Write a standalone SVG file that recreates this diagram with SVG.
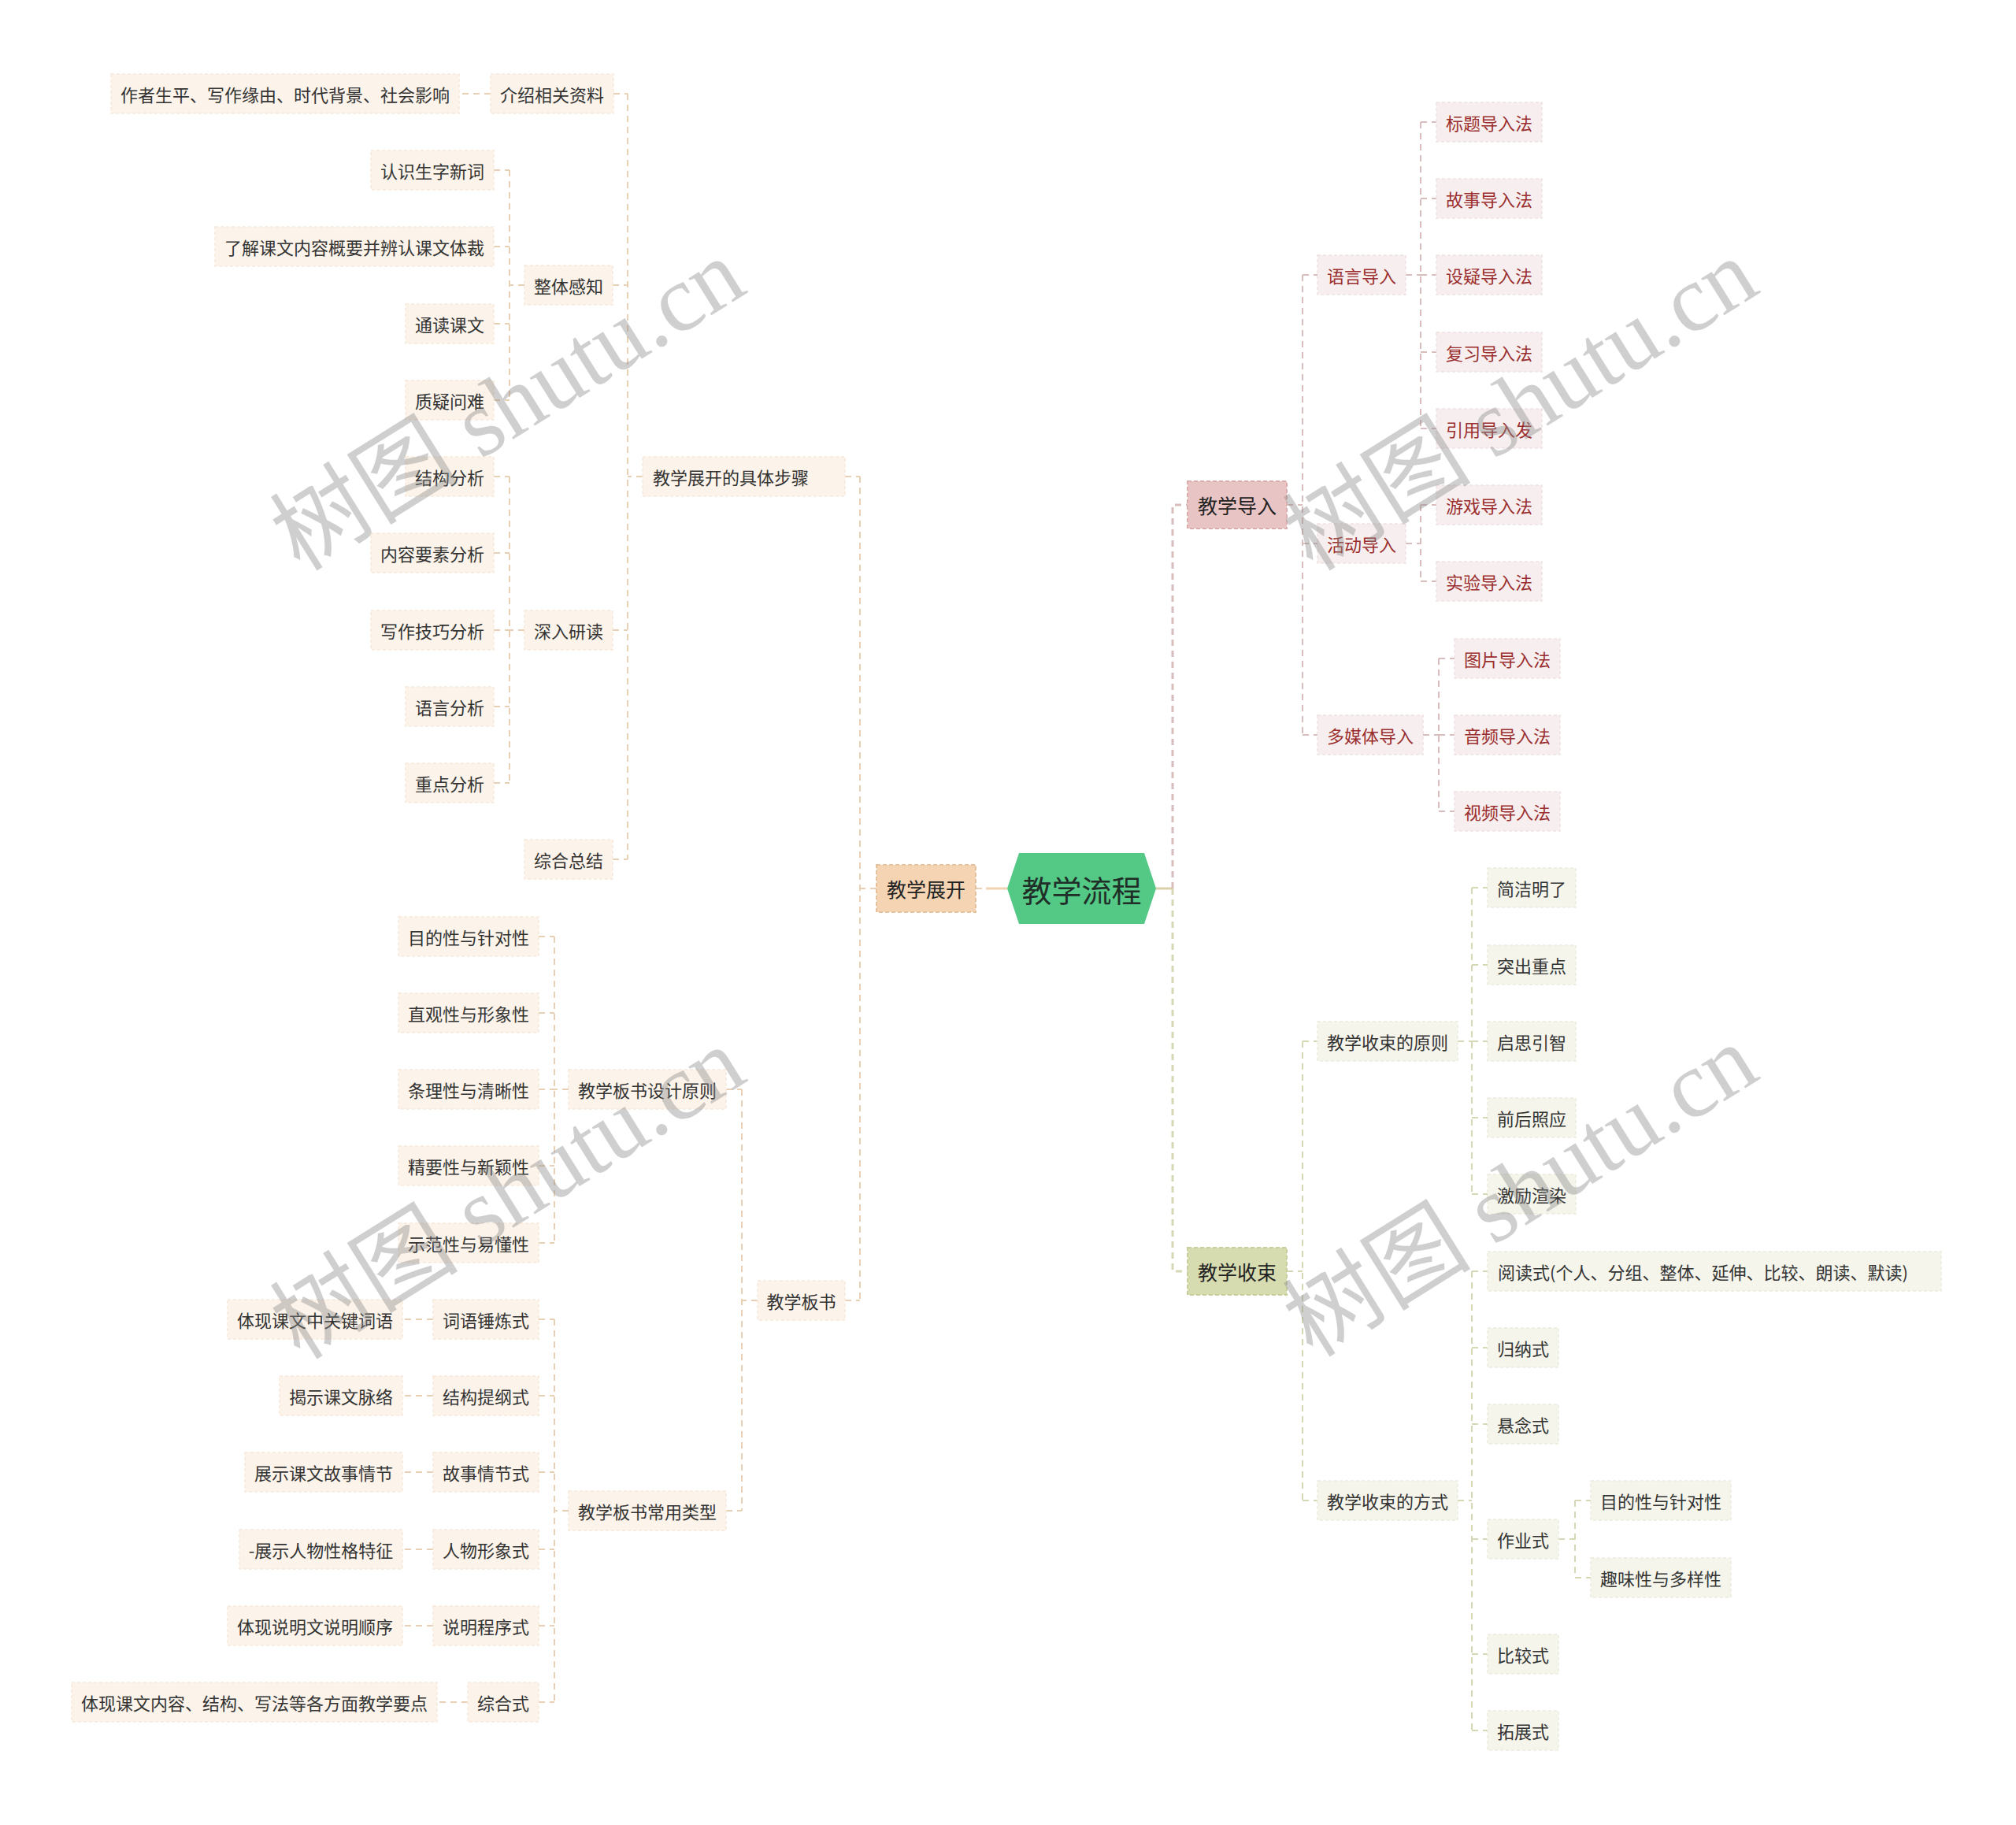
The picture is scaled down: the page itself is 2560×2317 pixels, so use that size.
<svg xmlns="http://www.w3.org/2000/svg" width="2560" height="2317" viewBox="0 0 2560 2317">
<style>
text{font-family:"Noto Sans CJK SC","Noto Sans",sans-serif;dominant-baseline:central;text-anchor:middle;font-size:22px}
.st{text-anchor:start}
.l1 text{font-size:25px;fill:#222}
.A .b{fill:#fcf3ea;stroke:#f7e9da;stroke-width:1.5;stroke-dasharray:4 3}
.A text{fill:#333}
.B .b{fill:#f7efef;stroke:#f0e2e2;stroke-width:1.5;stroke-dasharray:4 3}
.B text{fill:#9a2e2e}
.C .b{fill:#f5f5ec;stroke:#ececde;stroke-width:1.5;stroke-dasharray:4 3}
.C text{fill:#333}
.l1.A .b{fill:#f4d4b2;stroke:#e6c29c;stroke-width:2;stroke-dasharray:5 3}
.l1.B .b{fill:#e9c4c4;stroke:#dcadad;stroke-width:2;stroke-dasharray:5 3}
.l1.C .b{fill:#d7dcb0;stroke:#c9ce9c;stroke-width:2;stroke-dasharray:5 3}
.l1 text{fill:#222}
.cA{fill:none;stroke:#e8d0b4;stroke-width:2;stroke-dasharray:8 6}
.cB{fill:none;stroke:#d9bdbd;stroke-width:2;stroke-dasharray:8 6}
.cC{fill:none;stroke:#d6d7b5;stroke-width:2;stroke-dasharray:8 6}
.wm{font-family:"Liberation Serif","Noto Sans CJK SC",serif;font-size:120px;fill:#8a8a8a;opacity:0.4;text-anchor:middle}
</style>
<g id="connectors">
<path class="cA" d="M1239,1128 H1252"/>
<path d="M1252,1128 H1279" stroke="#f0d2b2" stroke-width="3" fill="none"/>
<path d="M1468,1128 H1489" stroke="#d9cfa8" stroke-width="3" fill="none"/>
<path class="cA" d="M1113,1128 H1092 M1092,605 V1651 M1073,605 H1092 M1073,1651 H1092"/>
<path class="cA" d="M816,605 H797 M797,119 V1091 M779,119 H797 M778,362 H797 M778,800 H797 M778,1091 H797"/>
<path class="cA" d="M666,362 H647 M647,216 V508 M627,216 H647 M627,313 H647 M627,411 H647 M627,508 H647"/>
<path class="cA" d="M666,800 H647 M647,605 V994 M627,605 H647 M627,702 H647 M627,800 H647 M627,897 H647 M627,994 H647"/>
<path class="cA" d="M623,119 H583"/>
<path class="cA" d="M962,1651 H942 M942,1383 V1918 M922,1383 H942 M922,1918 H942"/>
<path class="cA" d="M722,1383 H704 M704,1189 V1578 M684,1189 H704 M684,1286 H704 M684,1383 H704 M684,1480 H704 M684,1578 H704"/>
<path class="cA" d="M722,1918 H704 M704,1675 V2161 M684,1675 H704 M684,1772 H704 M684,1869 H704 M684,1967 H704 M684,2064 H704 M684,2161 H704"/>
<path class="cA" d="M550,1675 H511 M550,1772 H511 M550,1869 H511 M550,1967 H511 M550,2064 H511 M594,2161 H555"/>
<path class="cB" style="stroke-width:3" d="M1489,1128 V641 H1508"/>
<path class="cC" style="stroke-width:3" d="M1489,1128 V1614 H1508"/>
<path class="cB" d="M1634,641 H1654 M1654,349 V933 M1654,349 H1673 M1654,690 H1673 M1654,933 H1673"/>
<path class="cB" d="M1785,349 H1804 M1804,155 V544 M1804,155 H1824 M1804,252 H1824 M1804,349 H1824 M1804,447 H1824 M1804,544 H1824"/>
<path class="cB" d="M1785,690 H1804 M1804,641 V738 M1804,641 H1824 M1804,738 H1824"/>
<path class="cB" d="M1807,933 H1827 M1827,836 V1030 M1827,836 H1847 M1827,933 H1847 M1827,1030 H1847"/>
<path class="cC" d="M1634,1614 H1654 M1654,1322 V1905 M1654,1322 H1673 M1654,1905 H1673"/>
<path class="cC" d="M1851,1322 H1869 M1869,1127 V1516 M1869,1127 H1889 M1869,1225 H1889 M1869,1322 H1889 M1869,1419 H1889 M1869,1516 H1889"/>
<path class="cC" d="M1851,1905 H1869 M1869,1614 V2197 M1869,1614 H1889 M1869,1711 H1889 M1869,1808 H1889 M1869,1954 H1889 M1869,2100 H1889 M1869,2197 H1889"/>
<path class="cC" d="M1979,1954 H2000 M2000,1905 V2003 M2000,1905 H2020 M2000,2003 H2020"/>
</g>
<g id="root">
<polygon points="1279,1128 1294,1083 1453,1083 1468,1128 1453,1173 1294,1173" fill="#54c986"/>
<text x="1373.5" y="1128" style="font-size:38px;fill:#1f2f28">教学流程</text>
</g>
<g id="n_zk" class="l1 A"><rect class="b" x="1113" y="1098" width="126" height="60"/><text x="1176" y="1128">教学展开</text></g>
<g id="n_dr" class="l1 B"><rect class="b" x="1508" y="611" width="126" height="60"/><text x="1571" y="641">教学导入</text></g>
<g id="n_ss" class="l1 C"><rect class="b" x="1508" y="1584" width="126" height="60"/><text x="1571" y="1614">教学收束</text></g>

<g id="n_a1" class="A"><rect class="b" x="141" y="94" width="442" height="50"/><text x="362" y="119">作者生平、写作缘由、时代背景、社会影响</text></g>
<g id="n_a2" class="A"><rect class="b" x="623" y="94" width="156" height="50"/><text x="701" y="119">介绍相关资料</text></g>
<g id="n_a3" class="A"><rect class="b" x="471" y="191" width="156" height="50"/><text x="549" y="216">认识生字新词</text></g>
<g id="n_a4" class="A"><rect class="b" x="273" y="288" width="354" height="50"/><text x="450" y="313">了解课文内容概要并辨认课文体裁</text></g>
<g id="n_a5" class="A"><rect class="b" x="666" y="337" width="112" height="50"/><text x="722" y="362">整体感知</text></g>
<g id="n_a6" class="A"><rect class="b" x="515" y="386" width="112" height="50"/><text x="571" y="411">通读课文</text></g>
<g id="n_a7" class="A"><rect class="b" x="515" y="483" width="112" height="50"/><text x="571" y="508">质疑问难</text></g>
<g id="n_a8" class="A"><rect class="b" x="515" y="580" width="112" height="50"/><text x="571" y="605">结构分析</text></g>
<g id="n_a9" class="A"><rect class="b" x="471" y="677" width="156" height="50"/><text x="549" y="702">内容要素分析</text></g>
<g id="n_a10" class="A"><rect class="b" x="471" y="775" width="156" height="50"/><text x="549" y="800">写作技巧分析</text></g>
<g id="n_a11" class="A"><rect class="b" x="515" y="872" width="112" height="50"/><text x="571" y="897">语言分析</text></g>
<g id="n_a12" class="A"><rect class="b" x="515" y="969" width="112" height="50"/><text x="571" y="994">重点分析</text></g>
<g id="n_a13" class="A"><rect class="b" x="666" y="775" width="112" height="50"/><text x="722" y="800">深入研读</text></g>
<g id="n_a14" class="A"><rect class="b" x="666" y="1066" width="112" height="50"/><text x="722" y="1091">综合总结</text></g>
<g id="n_a15" class="A"><rect class="b" x="816" y="580" width="257" height="50"/><text class="st" x="829" y="605">教学展开的具体步骤</text></g>
<g id="n_a16" class="A"><rect class="b" x="962" y="1626" width="111" height="50"/><text x="1017.5" y="1651">教学板书</text></g>
<g id="n_a17" class="A"><rect class="b" x="722" y="1358" width="200" height="50"/><text x="822" y="1383">教学板书设计原则</text></g>
<g id="n_a18" class="A"><rect class="b" x="722" y="1893" width="200" height="50"/><text x="822" y="1918">教学板书常用类型</text></g>
<g id="n_a19" class="A"><rect class="b" x="506" y="1164" width="178" height="50"/><text x="595" y="1189">目的性与针对性</text></g>
<g id="n_a20" class="A"><rect class="b" x="506" y="1261" width="178" height="50"/><text x="595" y="1286">直观性与形象性</text></g>
<g id="n_a21" class="A"><rect class="b" x="506" y="1358" width="178" height="50"/><text x="595" y="1383">条理性与清晰性</text></g>
<g id="n_a22" class="A"><rect class="b" x="506" y="1455" width="178" height="50"/><text x="595" y="1480">精要性与新颖性</text></g>
<g id="n_a23" class="A"><rect class="b" x="506" y="1553" width="178" height="50"/><text x="595" y="1578">示范性与易懂性</text></g>
<g id="n_a24" class="A"><rect class="b" x="550" y="1650" width="134" height="50"/><text x="617" y="1675">词语锤炼式</text></g>
<g id="n_a25" class="A"><rect class="b" x="550" y="1747" width="134" height="50"/><text x="617" y="1772">结构提纲式</text></g>
<g id="n_a26" class="A"><rect class="b" x="550" y="1844" width="134" height="50"/><text x="617" y="1869">故事情节式</text></g>
<g id="n_a27" class="A"><rect class="b" x="550" y="1942" width="134" height="50"/><text x="617" y="1967">人物形象式</text></g>
<g id="n_a28" class="A"><rect class="b" x="550" y="2039" width="134" height="50"/><text x="617" y="2064">说明程序式</text></g>
<g id="n_a29" class="A"><rect class="b" x="594" y="2136" width="90" height="50"/><text x="639" y="2161">综合式</text></g>
<g id="n_a30" class="A"><rect class="b" x="289" y="1650" width="222" height="50"/><text x="400" y="1675">体现课文中关键词语</text></g>
<g id="n_a31" class="A"><rect class="b" x="355" y="1747" width="156" height="50"/><text x="433" y="1772">揭示课文脉络</text></g>
<g id="n_a32" class="A"><rect class="b" x="311" y="1844" width="200" height="50"/><text x="411" y="1869">展示课文故事情节</text></g>
<g id="n_a33" class="A"><rect class="b" x="304" y="1942" width="207" height="50"/><text x="407.5" y="1967">-展示人物性格特征</text></g>
<g id="n_a34" class="A"><rect class="b" x="289" y="2039" width="222" height="50"/><text x="400" y="2064">体现说明文说明顺序</text></g>
<g id="n_a35" class="A"><rect class="b" x="91" y="2136" width="464" height="50"/><text x="323" y="2161">体现课文内容、结构、写法等各方面教学要点</text></g>

<g id="n_b1" class="B"><rect class="b" x="1673" y="324" width="112" height="50"/><text x="1729" y="349">语言导入</text></g>
<g id="n_b2" class="B"><rect class="b" x="1673" y="665" width="112" height="50"/><text x="1729" y="690">活动导入</text></g>
<g id="n_b3" class="B"><rect class="b" x="1673" y="908" width="134" height="50"/><text x="1740" y="933">多媒体导入</text></g>
<g id="n_b4" class="B"><rect class="b" x="1824" y="130" width="134" height="50"/><text x="1891" y="155">标题导入法</text></g>
<g id="n_b5" class="B"><rect class="b" x="1824" y="227" width="134" height="50"/><text x="1891" y="252">故事导入法</text></g>
<g id="n_b6" class="B"><rect class="b" x="1824" y="324" width="134" height="50"/><text x="1891" y="349">设疑导入法</text></g>
<g id="n_b7" class="B"><rect class="b" x="1824" y="422" width="134" height="50"/><text x="1891" y="447">复习导入法</text></g>
<g id="n_b8" class="B"><rect class="b" x="1824" y="519" width="134" height="50"/><text x="1891" y="544">引用导入发</text></g>
<g id="n_b9" class="B"><rect class="b" x="1824" y="616" width="134" height="50"/><text x="1891" y="641">游戏导入法</text></g>
<g id="n_b10" class="B"><rect class="b" x="1824" y="713" width="134" height="50"/><text x="1891" y="738">实验导入法</text></g>
<g id="n_b11" class="B"><rect class="b" x="1847" y="811" width="134" height="50"/><text x="1914" y="836">图片导入法</text></g>
<g id="n_b12" class="B"><rect class="b" x="1847" y="908" width="134" height="50"/><text x="1914" y="933">音频导入法</text></g>
<g id="n_b13" class="B"><rect class="b" x="1847" y="1005" width="134" height="50"/><text x="1914" y="1030">视频导入法</text></g>

<g id="n_c1" class="C"><rect class="b" x="1673" y="1297" width="178" height="50"/><text x="1762" y="1322">教学收束的原则</text></g>
<g id="n_c2" class="C"><rect class="b" x="1673" y="1880" width="178" height="50"/><text x="1762" y="1905">教学收束的方式</text></g>
<g id="n_c3" class="C"><rect class="b" x="1889" y="1102" width="112" height="50"/><text x="1945" y="1127">简洁明了</text></g>
<g id="n_c4" class="C"><rect class="b" x="1889" y="1200" width="112" height="50"/><text x="1945" y="1225">突出重点</text></g>
<g id="n_c5" class="C"><rect class="b" x="1889" y="1297" width="112" height="50"/><text x="1945" y="1322">启思引智</text></g>
<g id="n_c6" class="C"><rect class="b" x="1889" y="1394" width="112" height="50"/><text x="1945" y="1419">前后照应</text></g>
<g id="n_c7" class="C"><rect class="b" x="1889" y="1491" width="112" height="50"/><text x="1945" y="1516">激励渲染</text></g>
<g id="n_c8" class="C"><rect class="b" x="1889" y="1589" width="576" height="50"/><text class="st" x="1902" y="1614">阅读式(个人、分组、整体、延伸、比较、朗读、默读)</text></g>
<g id="n_c9" class="C"><rect class="b" x="1889" y="1686" width="90" height="50"/><text x="1934" y="1711">归纳式</text></g>
<g id="n_c10" class="C"><rect class="b" x="1889" y="1783" width="90" height="50"/><text x="1934" y="1808">悬念式</text></g>
<g id="n_c11" class="C"><rect class="b" x="1889" y="1929" width="90" height="50"/><text x="1934" y="1954">作业式</text></g>
<g id="n_c12" class="C"><rect class="b" x="1889" y="2075" width="90" height="50"/><text x="1934" y="2100">比较式</text></g>
<g id="n_c13" class="C"><rect class="b" x="1889" y="2172" width="90" height="50"/><text x="1934" y="2197">拓展式</text></g>
<g id="n_c14" class="C"><rect class="b" x="2020" y="1880" width="178" height="50"/><text x="2109" y="1905">目的性与针对性</text></g>
<g id="n_c15" class="C"><rect class="b" x="2020" y="1978" width="178" height="50"/><text x="2109" y="2003">趣味性与多样性</text></g>

<g id="watermarks">
<text class="wm" transform="translate(645,514) rotate(-32)" y="0">树图 shutu.cn</text>
<text class="wm" transform="translate(1931,514) rotate(-32)" y="0">树图 shutu.cn</text>
<text class="wm" transform="translate(645,1515) rotate(-32)" y="0">树图 shutu.cn</text>
<text class="wm" transform="translate(1931,1512) rotate(-32)" y="0">树图 shutu.cn</text>
</g>
</svg>
